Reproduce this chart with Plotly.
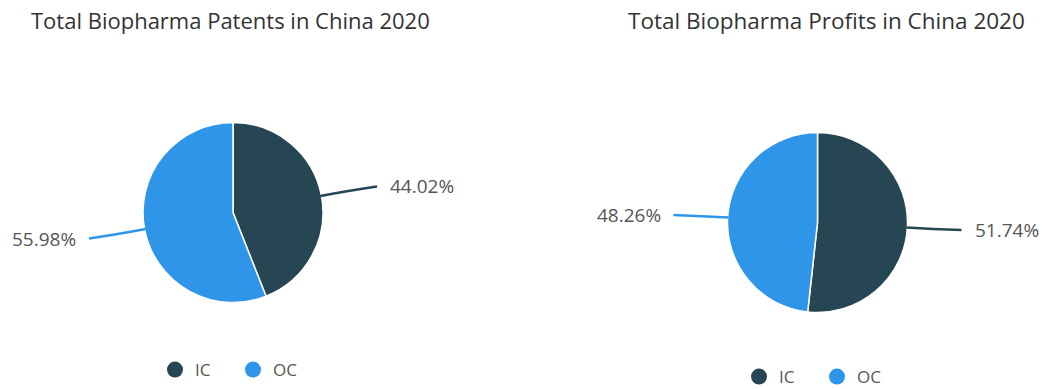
import math
import plotly.graph_objects as go

categories = ["IC", "OC"]
patents_pct = [44.02, 55.98]
profits_pct = [51.74, 48.26]
titles = ["Total Biopharma Patents in China 2020", "Total Biopharma Profits in China 2020"]
colors = ["#264653", "#2f95e8"]

W, H = 1044, 389
FONT = "Open Sans"

# layout (pixels)
pies = [
    dict(values=patents_pct, cx=233, cy=212.5, r=90, title=titles[0], tx=230, tsize=22,
         legend="legend", ly=370, lx=155),
    dict(values=profits_pct, cx=817.5, cy=222.5, r=90, title=titles[1], tx=826, tsize=22.5,
         legend="legend2", ly=377, lx=739),
]

fig = go.Figure()
shapes = []
annotations = []

for p in pies:
    cx, cy, r = p["cx"], p["cy"], p["r"]
    fig.add_trace(go.Pie(
        labels=categories, values=p["values"], sort=False, direction="clockwise", rotation=0,
        marker=dict(colors=colors, line=dict(color="white", width=1.5)),
        textinfo="none", hoverinfo="label+percent", showlegend=False,
        domain=dict(x=[(cx - r) / W, (cx + r) / W], y=[1 - (cy + r) / H, 1 - (cy - r) / H]),
    ))
    total = sum(p["values"])
    cum = 0
    for v, col in zip(p["values"], colors):
        mid = (cum + v / 2) / total * 2 * math.pi
        cum += v
        dx, dy = math.sin(mid), -math.cos(mid)
        ex, ey = cx + (r - 1) * dx, cy + (r - 1) * dy
        side = 1 if dx >= 0 else -1
        endx, endy = cx + side * 144, cy + 140 * dy
        qx, qy = cx + (r + 25) * dx, cy + (r + 25) * dy
        shapes.append(dict(type="path", xref="x", yref="y",
                           path=f"M {ex:.1f},{ey:.1f} Q {qx:.1f},{qy:.1f} {endx:.1f},{endy:.1f}",
                           line=dict(color=col, width=2.5)))
        annotations.append(dict(xref="x", yref="y", x=endx + side * 11, y=endy,
                                text=f"{v / total * 100:.2f}%", showarrow=False,
                                xanchor="left" if side > 0 else "right", yanchor="middle",
                                font=dict(family=FONT, size=19, color="#555555")))
    annotations.append(dict(xref="x", yref="y", x=p["tx"], y=20, text=p["title"], showarrow=False,
                            xanchor="center", yanchor="middle",
                            font=dict(family=FONT, size=p["tsize"], color="#333333")))
    for cat, col in zip(categories, colors):
        fig.add_trace(go.Scatter(x=[None], y=[None], mode="markers", name=cat,
                                 marker=dict(color=col, size=18, symbol="circle"),
                                 legend=p["legend"], showlegend=True, hoverinfo="skip"))

legend_common = dict(orientation="h", font=dict(family=FONT, size=17, color="#555555"),
                     bgcolor="rgba(0,0,0,0)", xanchor="left", yanchor="middle",
                     entrywidth=33, entrywidthmode="pixels", itemclick=False, itemdoubleclick=False)

fig.update_layout(
    width=W, height=H, margin=dict(l=0, r=0, t=0, b=0, autoexpand=False),
    paper_bgcolor="white", plot_bgcolor="white",
    xaxis=dict(range=[0, W], visible=False, fixedrange=True),
    yaxis=dict(range=[H, 0], visible=False, fixedrange=True),
    shapes=shapes, annotations=annotations,
    legend=dict(x=pies[0]["lx"] / W, y=1 - pies[0]["ly"] / H, **legend_common),
    legend2=dict(x=pies[1]["lx"] / W, y=1 - pies[1]["ly"] / H, **legend_common),
    font=dict(family=FONT),
)

fig.write_html("out.html", config={"displayModeBar": False},
               post_script="document.body.style.margin='0';document.body.style.overflow='hidden';")
